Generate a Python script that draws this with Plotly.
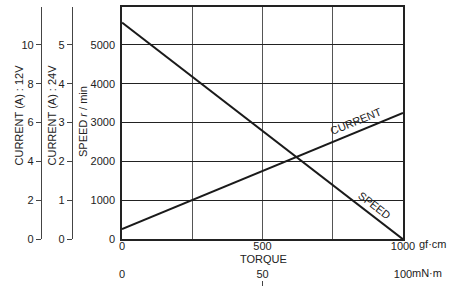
import plotly.graph_objects as go

# ---- data ----
torque_gfcm = [0, 1000]
speed_rpm = [5570, 0]
current_12v = [0.52, 6.5]

torque_ticks = [0, 250, 500, 750, 1000]
torque_ticktext = ["0", "", "500", "", "1000"]
speed_ticks = [0, 1000, 2000, 3000, 4000, 5000]
cur12_ticks = [0, 2, 4, 6, 8, 10]
cur24_ticks = [0, 1, 2, 3, 4, 5]
mnm_ticks = [0, 50, 100]
mnm_ticktext = ["0", "50", "100"]

W, H = 454, 286
ML, MR, MT, MB = 0, 51, 7, 0
PW = W - ML - MR          # 403
PH = H - MT - MB          # 279
plot_left, plot_bottom = 122, 239.3

def px_x(p):
    return (p - ML) / PW

def px_y(p):
    return (H - MB - p) / PH

FONT = "Arial, Liberation Sans, sans-serif"
TXT = "#222"

fig = go.Figure()
fig.add_trace(go.Scatter(x=torque_gfcm, y=speed_rpm, mode="lines",
                         line=dict(color="#1a1a1a", width=2),
                         xaxis="x", yaxis="y", hoverinfo="skip", showlegend=False))
fig.add_trace(go.Scatter(x=torque_gfcm, y=current_12v, mode="lines",
                         line=dict(color="#1a1a1a", width=2),
                         xaxis="x", yaxis="y2", hoverinfo="skip", showlegend=False))
# invisible helpers so the extra axes are drawn
fig.add_trace(go.Scatter(x=[0, 5], y=[None, None], mode="lines", xaxis="x", yaxis="y3",
                         hoverinfo="skip", showlegend=False))
fig.add_trace(go.Scatter(x=[0, 100], y=[None, None], mode="lines", xaxis="x2", yaxis="y",
                         hoverinfo="skip", showlegend=False))

ydom = [px_y(plot_bottom), 1]
xdom = [px_x(plot_left), 1]
speed_top = 5970

axis_font = dict(family=FONT, size=11, color=TXT)

fig.update_layout(
    width=W, height=H,
    margin=dict(l=ML, r=MR, t=MT, b=MB, pad=0, autoexpand=False),
    paper_bgcolor="white", plot_bgcolor="white",
    font=axis_font,
    xaxis=dict(domain=xdom, range=[0, 1000], tickvals=torque_ticks, ticktext=torque_ticktext,
               showgrid=True, gridcolor="#555", gridwidth=1.3, showline=True, mirror=True,
               linecolor="#222", linewidth=1.5, ticks="", zeroline=False,
               tickfont=axis_font, anchor="y", automargin=False, ticklabelstandoff=-4),
    yaxis=dict(domain=ydom, range=[0, speed_top], tickvals=speed_ticks,
               showgrid=True, gridcolor="#222", gridwidth=1, showline=True, mirror=True,
               linecolor="#222", linewidth=1.5, ticks="", zeroline=False,
               tickfont=axis_font, anchor="x", ticklabelstandoff=3, automargin=False),
    yaxis2=dict(overlaying="y", anchor="free", position=px_x(41), side="left",
                range=[0, speed_top * 2 / 1000], tickvals=cur12_ticks,
                showgrid=False, zeroline=False, showline=True, linecolor="#444", linewidth=1.3,
                ticks="outside", ticklen=5, tickcolor="#444", tickwidth=1.2,
                tickfont=axis_font, automargin=False),
    yaxis3=dict(overlaying="y", anchor="free", position=px_x(72), side="left",
                range=[0, speed_top / 1000], tickvals=cur24_ticks,
                showgrid=False, zeroline=False, showline=True, linecolor="#444", linewidth=1.3,
                ticks="outside", ticklen=5, tickcolor="#444", tickwidth=1.2,
                tickfont=axis_font, automargin=False),
    xaxis2=dict(overlaying="x", anchor="free", position=px_y(280), side="top",
                range=[0, 100], tickvals=mnm_ticks, ticktext=mnm_ticktext,
                showgrid=False, zeroline=False, showline=False,
                ticks="inside", ticklen=6, tickcolor="#444", tickwidth=1.2,
                tickfont=axis_font, automargin=False),
)

ann = []
def add_paper(text, x, y, angle=0, xanchor="center"):
    ann.append(dict(text=text, x=px_x(x), y=px_y(y), xref="paper", yref="paper",
                    showarrow=False, textangle=angle, xanchor=xanchor, yanchor="middle",
                    font=dict(family=FONT, size=11, color=TXT)))

add_paper("CURRENT (A) : 12V", 19, 115.5, -90)
add_paper("CURRENT (A) : 24V", 52, 115.5, -90)
add_paper("SPEED <i>r</i> / min", 83, 122, -90)
add_paper("TORQUE", 263, 259)
add_paper("gf·cm", 416.5, 244, 0, "left")
add_paper("mN·m", 409.5, 273, 0, "left")

# line labels (data coordinates)
ann.append(dict(text="CURRENT", x=833, y=3030, xref="x", yref="y", showarrow=False,
                textangle=-22, font=dict(family=FONT, size=11, color=TXT)))
ann.append(dict(text="SPEED", x=897, y=880, xref="x", yref="y", showarrow=False,
                textangle=37.6, font=dict(family=FONT, size=11, color=TXT)))

fig.update_layout(annotations=ann)
fig.write_html("out.html", config={"displayModeBar": False},
               post_script="document.body.style.margin='0';document.body.style.padding='0';")
